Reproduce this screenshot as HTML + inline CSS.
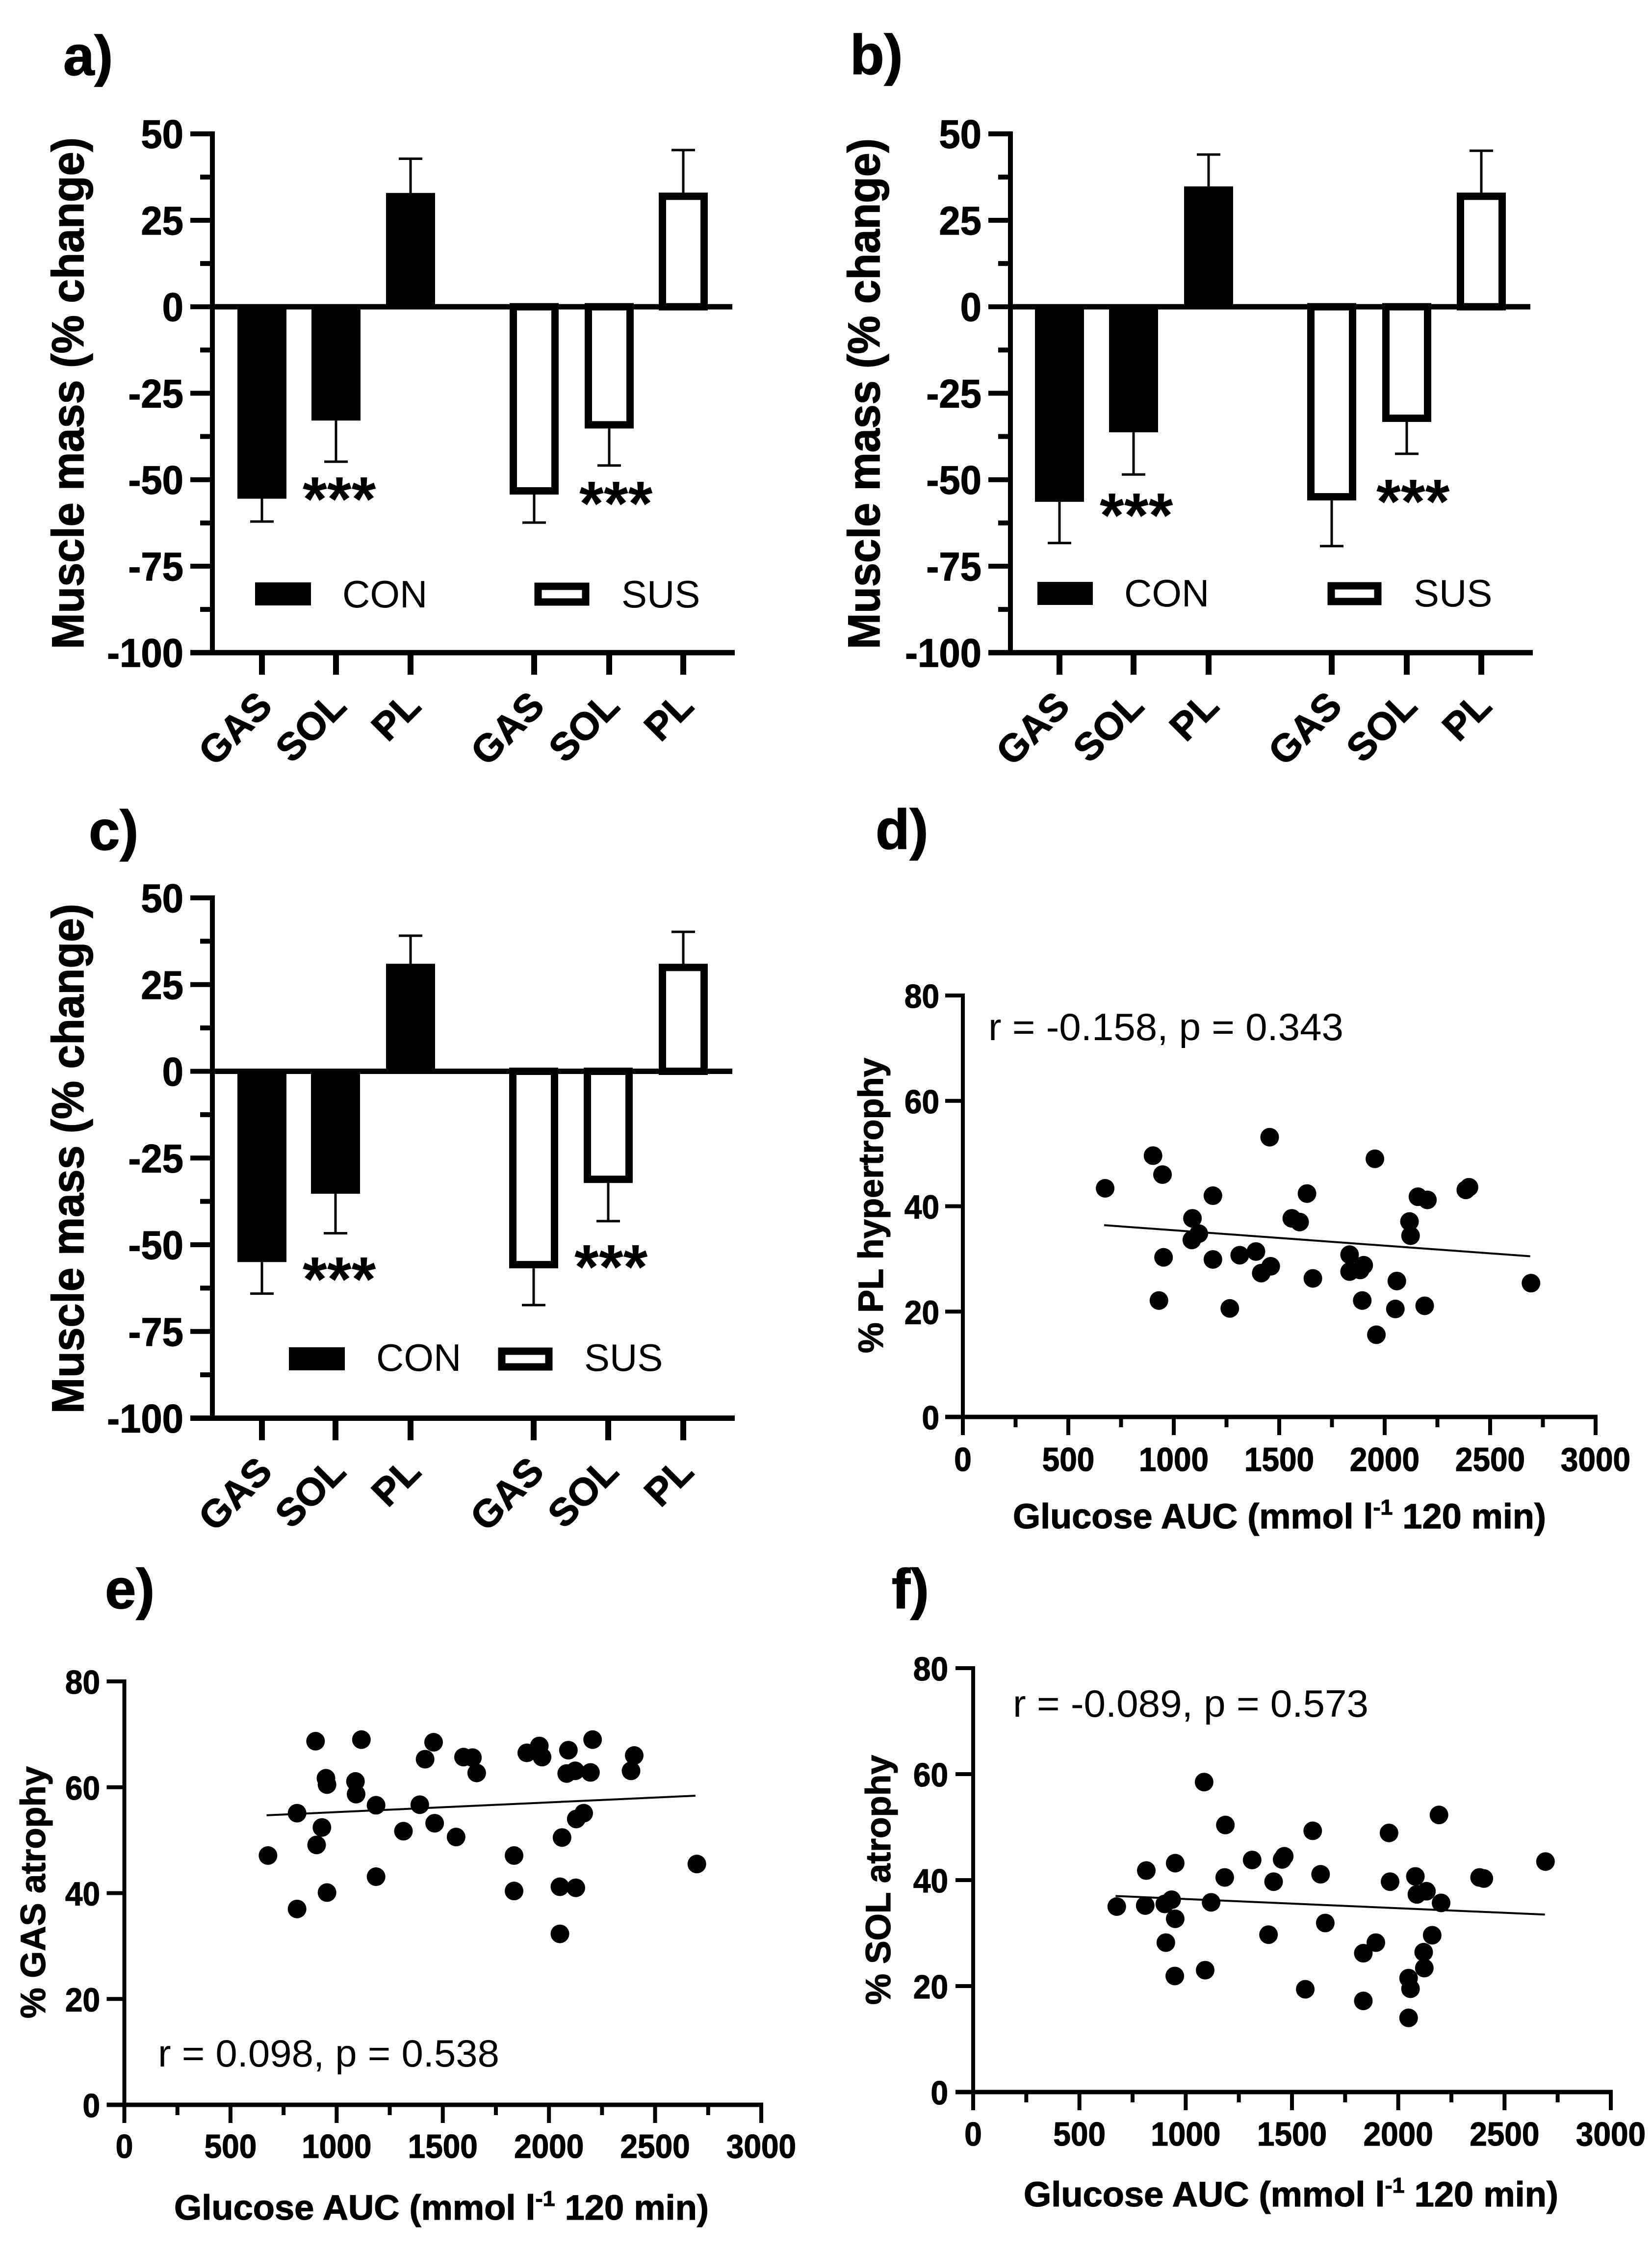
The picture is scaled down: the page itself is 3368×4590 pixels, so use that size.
<!DOCTYPE html>
<html lang="en">
<head>
<meta charset="utf-8">
<title>Muscle mass and glucose AUC figure</title>
<style>
html,body{margin:0;padding:0;background:#fff;}
svg{display:block;}
text{font-family:"Liberation Sans",Arial,sans-serif;fill:#000;}
.b{font-weight:bold;stroke:#000;stroke-width:1.2px;}
.letter{font-weight:bold;font-size:114px;stroke:#000;stroke-width:1.5px;}
.ytitle{font-weight:bold;font-size:92px;stroke:#000;stroke-width:1.5px;}
.stitle{font-weight:bold;font-size:71px;stroke:#000;stroke-width:1.2px;}
.xtitle{font-weight:bold;font-size:71px;stroke:#000;stroke-width:1.2px;}
.stat{font-size:78px;}
.leg{font-size:78px;}
.star{font-weight:bold;font-size:128px;}
</style>
</head>
<body>
<svg id="fig" xmlns="http://www.w3.org/2000/svg" width="3368" height="4590" viewBox="0 0 3368 4590">
<rect x="0" y="0" width="3368" height="4590" fill="#fff"/>

<g id="panel-a"></g>
<g id="panel-b"></g>
<g id="panel-c"></g>
<g id="panel-d"></g>
<g id="panel-e"></g>
<g id="panel-f"></g>

<text class="letter" x="129" y="153">a)</text>
<text class="letter" x="1733" y="151">b)</text>
<text class="letter" x="181" y="1732">c)</text>
<text class="letter" x="1785" y="1730">d)</text>
<text class="letter" x="214" y="3278">e)</text>
<text class="letter" x="1818" y="3278">f)</text>

<text class="ytitle" transform="translate(170,1323) rotate(-90)" textLength="1043" lengthAdjust="spacingAndGlyphs">Muscle mass (% change)</text>
<text class="ytitle" transform="translate(1793,1323) rotate(-90)" textLength="1041" lengthAdjust="spacingAndGlyphs">Muscle mass (% change)</text>
<text class="ytitle" transform="translate(170,2881) rotate(-90)" textLength="1039" lengthAdjust="spacingAndGlyphs">Muscle mass (% change)</text>
<text class="stitle" transform="translate(1800,2758) rotate(-90)" textLength="602" lengthAdjust="spacingAndGlyphs">% PL hypertrophy</text>
<text class="stitle" transform="translate(92,4114) rotate(-90)" textLength="514" lengthAdjust="spacingAndGlyphs">% GAS atrophy</text>
<text class="stitle" transform="translate(1815,4086) rotate(-90)" textLength="509" lengthAdjust="spacingAndGlyphs">% SOL atrophy</text>

<text class="xtitle" x="2065" y="3115" textLength="1087" lengthAdjust="spacingAndGlyphs">Glucose AUC (mmol l<tspan dy="-28" font-size="44">-1</tspan><tspan dy="28"> 120 min)</tspan></text>
<text class="xtitle" x="355" y="4524" textLength="1090" lengthAdjust="spacingAndGlyphs">Glucose AUC (mmol l<tspan dy="-28" font-size="44">-1</tspan><tspan dy="28"> 120 min)</tspan></text>
<text class="xtitle" x="2087" y="4497" textLength="1090" lengthAdjust="spacingAndGlyphs">Glucose AUC (mmol l<tspan dy="-28" font-size="44">-1</tspan><tspan dy="28"> 120 min)</tspan></text>

<text class="stat" x="2015" y="2120" textLength="724" lengthAdjust="spacingAndGlyphs">r = -0.158, p = 0.343</text>
<text class="stat" x="322" y="4212" textLength="696" lengthAdjust="spacingAndGlyphs">r = 0.098, p = 0.538</text>
<text class="stat" x="2065" y="3499" textLength="725" lengthAdjust="spacingAndGlyphs">r = -0.089, p = 0.573</text>

<g>
<rect x="520" y="1187" width="114" height="47" fill="#000"/>
<text class="leg" x="698" y="1238">CON</text>
<rect x="1097" y="1195" width="97" height="32" fill="#fff" stroke="#000" stroke-width="15"/>
<text class="leg" x="1267" y="1238">SUS</text>
</g>
<g>
<rect x="2115" y="1186" width="113" height="47" fill="#000"/>
<text class="leg" x="2292" y="1236">CON</text>
<rect x="2714" y="1194" width="95" height="32" fill="#fff" stroke="#000" stroke-width="15"/>
<text class="leg" x="2882" y="1236">SUS</text>
</g>
<g>
<rect x="589" y="2746" width="114" height="47" fill="#000"/>
<text class="leg" x="767" y="2794">CON</text>
<rect x="1023" y="2754" width="96" height="32" fill="#fff" stroke="#000" stroke-width="15"/>
<text class="leg" x="1191" y="2794">SUS</text>
</g>

<text class="star" x="617" y="1061">***</text>
<text class="star" x="1181" y="1070">***</text>
<text class="star" x="2242" y="1094">***</text>
<text class="star" x="2806" y="1066">***</text>
<text class="star" x="617" y="2651">***</text>
<text class="star" x="1171" y="2626">***</text>
</svg>

<script>
// ---------- bar chart data ----------
const barCategories = ['GAS', 'SOL', 'PL', 'GAS', 'SOL', 'PL'];
const barGroups = ['con', 'con', 'con', 'sus', 'sus', 'sus'];
const barTickLabels = ['50', '25', '0', '-25', '-50', '-75', '-100'];
const barTickValues = [50, 25, 0, -25, -50, -75, -100];
const barMinorValues = [37.5, 12.5, -12.5, -37.5, -62.5, -87.5];

const panelAMeans = [-55.5, -32.9, 32.9, -54.3, -35.2, 33];
const panelAErrorEnds = [-62.1, -44.8, 42.8, -62.4, -45.9, 45.3];
const panelBMeans = [-56.4, -36.3, 34.8, -56, -33.3, 33];
const panelBErrorEnds = [-68.3, -48.5, 44, -69.2, -42.5, 45.1];
const panelCMeans = [-55, -35.3, 31, -56.8, -32.2, 31];
const panelCErrorEnds = [-64.1, -46.7, 39.1, -67.4, -43.2, 40.2];

// ---------- scatter data ----------
const scatterXTickLabels = ['0', '500', '1000', '1500', '2000', '2500', '3000'];
const scatterXTickValues = [0, 500, 1000, 1500, 2000, 2500, 3000];
const scatterXMinorValues = [250, 750, 1250, 1750, 2250, 2750];
const scatterYTickLabels = ['0', '20', '40', '60', '80'];
const scatterYTickValues = [0, 20, 40, 60, 80];

const panelDGlucose = [670, 897, 942, 925, 947, 1084, 1114, 1081, 1181, 1181, 1261, 1308, 1385, 1410, 1455, 1450, 1555, 1592, 1627, 1655, 1829, 1829, 1879, 1896, 1889, 1949, 1956, 2046, 2053, 2113, 2118, 2153, 2198, 2185, 2380, 2395, 2689];
const panelDPercent = [43.4, 49.6, 46.0, 22.1, 30.3, 37.7, 34.8, 33.6, 42.0, 29.9, 20.6, 30.7, 31.4, 27.3, 28.6, 53.1, 37.7, 37.0, 42.4, 26.3, 30.8, 27.6, 27.9, 28.8, 22.1, 49.0, 15.6, 20.5, 25.8, 37.1, 34.4, 41.8, 41.2, 21.1, 43.1, 43.6, 25.4];
const panelDTrendX = [670, 2690];
const panelDTrendY = [36.4, 30.5];

const panelEGlucose = [672, 896, 809, 809, 945, 950, 926, 901, 950, 1084, 1087, 1112, 1181, 1181, 1310, 1387, 1412, 1457, 1452, 1558, 1593, 1635, 1655, 1831, 1831, 1891, 1950, 1963, 2047, 2047, 2057, 2087, 2079, 2119, 2122, 2124, 2159, 2191, 2201, 2382, 2397, 2692];
const panelEPercent = [47.1, 68.7, 55.1, 37.0, 61.7, 60.5, 52.4, 49.1, 40.1, 61.1, 58.7, 69.0, 56.6, 43.1, 51.7, 56.7, 65.3, 53.2, 68.5, 50.6, 65.7, 65.6, 62.7, 47.1, 40.4, 66.5, 67.8, 65.7, 41.2, 32.3, 50.5, 67.0, 62.6, 63.1, 41.0, 54.0, 55.1, 62.8, 69.0, 63.1, 66.0, 45.5];
const panelETrendX = [670, 2690];
const panelETrendY = [54.7, 58.4];

const panelFGlucose = [671, 805, 810, 897, 929, 902, 944, 946, 946, 1082, 1087, 1115, 1179, 1182, 1308, 1385, 1409, 1449, 1459, 1558, 1593, 1630, 1652, 1831, 1831, 1890, 1952, 1957, 2044, 2053, 2044, 2076, 2083, 2115, 2118, 2128, 2155, 2187, 2197, 2378, 2398, 2688];
const panelFPercent = [35.0, 35.2, 41.8, 35.5, 36.3, 28.2, 21.9, 43.2, 32.7, 58.5, 23.0, 35.8, 40.5, 50.4, 43.8, 29.7, 39.7, 43.9, 44.5, 19.4, 49.3, 41.1, 31.9, 26.2, 17.2, 28.2, 48.9, 39.7, 21.5, 19.5, 14.0, 40.7, 37.3, 26.4, 23.4, 37.9, 29.6, 52.3, 35.7, 40.5, 40.3, 43.5];
const panelFTrendX = [670, 2690];
const panelFTrendY = [37, 33.5];

const NS = 'http://www.w3.org/2000/svg';

function make(parent, tag, attrs) {
  const node = document.createElementNS(NS, tag);
  for (const key in attrs) node.setAttribute(key, attrs[key]);
  parent.appendChild(node);
  return node;
}

function hLine(parent, x1, x2, y, w) {
  return make(parent, 'line', { x1: x1, x2: x2, y1: y, y2: y, stroke: '#000', 'stroke-width': w });
}

function vLine(parent, x, y1, y2, w) {
  return make(parent, 'line', { x1: x, x2: x, y1: y1, y2: y2, stroke: '#000', 'stroke-width': w });
}

function label(parent, text, x, y, size, sx, anchor) {
  const t = make(parent, 'text', {
    class: 'b',
    'font-size': size,
    'text-anchor': anchor,
    transform: 'translate(' + x + ',' + y + ') scale(' + sx + ',1)'
  });
  t.textContent = text;
  return t;
}

function drawBarPanel(id, axisX, top, unit, xTicks, means, errorEnds) {
  const g = document.getElementById(id);
  const yOf = function (v) { return top + (50 - v) * unit; };
  const xEnd = axisX + 1065;

  const yAxis = vLine(g, axisX, yOf(50) - 5, yOf(-100) + 5, 10);
  
  

  barTickValues.forEach(function (v, i) {
    const tick = hLine(g, axisX - 45, axisX, yOf(v), 10);
    
    
    const tl = label(g, barTickLabels[i], axisX - 59, yOf(v) + 29, 82, 0.95, 'end');
    
    
  });
  barMinorValues.forEach(function (v) {
    const minor = hLine(g, axisX - 25, axisX, yOf(v), 10);
    
    
  });

  means.forEach(function (m, i) {
    const cx = xTicks(i);
    const y0 = yOf(0);
    const ym = yOf(m);
    const ye = yOf(errorEnds[i]);

    const stem = vLine(g, cx, ym, ye, 5);
    
    
    const cap = hLine(g, cx - 24, cx + 24, ye, 5);
    
    

    const filled = barGroups[i] === 'con';
    const inset = filled ? 0 : 7.5;
    const bar = make(g, 'rect', {
      x: cx - 50 + inset,
      y: Math.min(y0, ym) + (m < 0 ? 0 : inset),
      width: 100 - 2 * inset,
      height: Math.abs(ym - y0) - inset,
      fill: filled ? '#000' : '#fff',
      stroke: filled ? 'none' : '#000',
      'stroke-width': filled ? 0 : 15
    });
    
    

    const tick = vLine(g, cx, yOf(-100), yOf(-100) + 45, 12);
    
    

    const t = make(g, 'text', {
      class: 'b',
      'font-size': 79,
      'text-anchor': 'end',
      transform: 'translate(' + (cx + 25) + ',' + (yOf(-100) + 113) + ') rotate(-45)'
    });
    t.textContent = barCategories[i];
    
    
  });

  const zero = hLine(g, axisX - 5, xEnd - 5, yOf(0), 11);
  
  
  const xAxis = hLine(g, axisX - 45, xEnd, yOf(-100), 11);
  
  
}

function drawScatterPanel(id, x0, x3000, y0, y80, xs, ys, trendX, trendY, xLabelY, yLabelRight) {
  const g = document.getElementById(id);
  const xOf = function (v) { return x0 + v / 3000 * (x3000 - x0); };
  const yOf = function (v) { return y0 - v / 80 * (y0 - y80); };

  const yAxis = vLine(g, x0, yOf(80) - 4, y0 + 37, 8);
  
  
  const xAxis = hLine(g, x0 - 36, x3000 + 4, y0, 9);
  
  

  scatterYTickValues.forEach(function (v, i) {
    const tick = hLine(g, x0 - 36, x0, yOf(v), 8);
    
    
    const tl = label(g, scatterYTickLabels[i], yLabelRight, yOf(v) + 25, 68, 0.94, 'end');
    
    
  });
  scatterXTickValues.forEach(function (v, i) {
    const tick = vLine(g, xOf(v), y0, y0 + 37, 8);
    
    
    const tl = label(g, scatterXTickLabels[i], xOf(v), xLabelY, 68, 0.94, 'middle');
    
    
  });
  scatterXMinorValues.forEach(function (v) {
    const minor = vLine(g, xOf(v), y0, y0 + 21, 8);
    
    
  });

  xs.forEach(function (v, i) {
    const dot = make(g, 'circle', { cx: xOf(v) + 2, cy: yOf(ys[i]), r: 19, fill: '#000' });
    
    
  });

  const trend = make(g, 'line', {
    x1: xOf(trendX[0]), y1: yOf(trendY[0]),
    x2: xOf(trendX[1]), y2: yOf(trendY[1]),
    stroke: '#000', 'stroke-width': 4
  });
  
  
}

const panelATick = function (i) { return [534, 685, 837, 1089, 1242, 1393][i]; };
const panelBTick = function (i) { return [2160, 2311, 2464, 2715, 2868, 3020][i]; };
const panelCTick = function (i) { return [534, 684, 837, 1088, 1240, 1393][i]; };

drawBarPanel('panel-a', 433, 272.7, 7.05, panelATick, panelAMeans, panelAErrorEnds);
drawBarPanel('panel-b', 2060, 272.7, 7.05, panelBTick, panelBMeans, panelBErrorEnds);
drawBarPanel('panel-c', 433, 1830, 7.07, panelCTick, panelCMeans, panelCErrorEnds);

drawScatterPanel('panel-d', 1963, 3253, 2888, 2029, panelDGlucose, panelDPercent, panelDTrendX, panelDTrendY, 2998, 1915);
drawScatterPanel('panel-e', 253.5, 1552, 4290, 3427, panelEGlucose, panelEPercent, panelETrendX, panelETrendY, 4398, 204);
drawScatterPanel('panel-f', 1984, 3284, 4264, 3400, panelFGlucose, panelFPercent, panelFTrendX, panelFTrendY, 4373, 1933);
</script>
</body>
</html>
